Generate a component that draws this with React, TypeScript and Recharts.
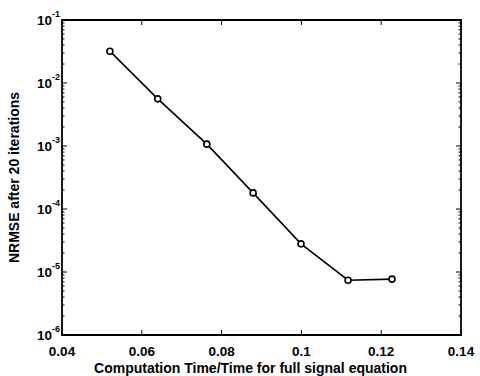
import { LineChart, Line, XAxis, YAxis, ReferenceArea } from 'recharts';

// values
const computeTime = [0.052, 0.064, 0.0763, 0.0879, 0.0999, 0.1117, 0.1227];
const nrmse = [3.2e-2, 5.6e-3, 1.07e-3, 1.8e-4, 2.8e-5, 7.4e-6, 7.7e-6];

const xTicks = [0.04, 0.06, 0.08, 0.1, 0.12, 0.14];
const xTickLabels = ['0.04', '0.06', '0.08', '0.1', '0.12', '0.14'];
const yDecades = [-6, -5, -4, -3, -2, -1];
const yMinorMults = [2, 3, 4, 5, 6, 7, 8, 9];

const data = computeTime.map((t, i) => ({ t, e: nrmse[i] }));

const yTicks: number[] = [];
yDecades.forEach((d) => {
  yTicks.push(Math.pow(10, d));
  if (d < -1) yMinorMults.forEach((m) => yTicks.push(m * Math.pow(10, d)));
});

const W = 480;
const H = 376;
const M = { top: 20, right: 19, bottom: 0, left: 0 };
const Y_AXIS_W = 62;
const X_AXIS_H = 41;
const PLOT_LEFT = M.left + Y_AXIS_W;
const PLOT_RIGHT = W - M.right;
const PLOT_TOP = M.top;
const PLOT_BOTTOM = H - M.bottom - X_AXIS_H;

const FONT = '"Liberation Sans", Arial, sans-serif';

function isDecade(v: number) {
  const l = Math.log10(v);
  return Math.abs(l - Math.round(l)) < 1e-6;
}

function YTick(props: any) {
  const { y, payload } = props;
  const v = payload.value;
  const major = isDecade(v);
  const len = major ? 5 : 2.5;
  return (
    <g>
      <line x1={PLOT_LEFT} x2={PLOT_LEFT + len} y1={y} y2={y} stroke="#000" strokeWidth={1} />
      <line x1={PLOT_RIGHT} x2={PLOT_RIGHT - len} y1={y} y2={y} stroke="#000" strokeWidth={1} />
      {major && (
        <text x={PLOT_LEFT - 2} y={y + 5} textAnchor="end" fontFamily={FONT} fontWeight="bold" fontSize={13.5} fill="#000">
          10
          <tspan dy={-8} fontSize={9}>{String(Math.round(Math.log10(v)))}</tspan>
        </text>
      )}
    </g>
  );
}

function XTick(props: any) {
  const { x, payload } = props;
  const idx = xTicks.indexOf(payload.value);
  return (
    <g>
      <line x1={x} x2={x} y1={PLOT_BOTTOM} y2={PLOT_BOTTOM - 5} stroke="#000" strokeWidth={1} />
      <line x1={x} x2={x} y1={PLOT_TOP} y2={PLOT_TOP + 5} stroke="#000" strokeWidth={1} />
      <text x={x} y={PLOT_BOTTOM + 21} textAnchor="middle" fontFamily={FONT} fontWeight="bold" fontSize={13.5} fill="#000">
        {idx >= 0 ? xTickLabels[idx] : payload.value}
      </text>
    </g>
  );
}

export default function App() {
  return (
    <div style={{ position: 'absolute', left: 0, top: 0, width: W, height: H, background: '#fff' }}>
      <LineChart width={W} height={H} data={data} margin={M}>
        <XAxis
          dataKey="t"
          type="number"
          domain={[0.04, 0.14]}
          ticks={xTicks}
          allowDataOverflow
          height={X_AXIS_H}
          tickLine={false}
          axisLine={false}
          tick={<XTick />}
          interval={0}
          label={{
            value: 'Computation Time/Time for full signal equation',
            position: 'insideBottom',
            offset: 3,
            dx: -11,
            style: { fontFamily: FONT, fontWeight: 'bold', fontSize: 14, fill: '#000' },
          }}
        />
        <YAxis
          type="number"
          scale="log"
          domain={[1e-6, 1e-1]}
          ticks={yTicks}
          allowDataOverflow
          width={Y_AXIS_W}
          tickLine={false}
          axisLine={false}
          tick={<YTick />}
          interval={0}
          label={{
            value: 'NRMSE after 20 iterations',
            angle: -90,
            position: 'insideLeft',
            offset: 14,
            style: { fontFamily: FONT, fontWeight: 'bold', fontSize: 14, fill: '#000', textAnchor: 'middle' },
          }}
        />
        <ReferenceArea
          x1={0.04}
          x2={0.14}
          y1={1e-6}
          y2={1e-1}
          fill="none"
          fillOpacity={0}
          stroke="#000"
          strokeWidth={1.8}
          ifOverflow="visible"
        />
        <Line
          dataKey="e"
          type="linear"
          stroke="#000"
          strokeWidth={1.6}
          dot={{ r: 3, stroke: '#000', strokeWidth: 1.6, fill: '#fff' }}
          isAnimationActive={false}
        />
      </LineChart>
    </div>
  );
}
